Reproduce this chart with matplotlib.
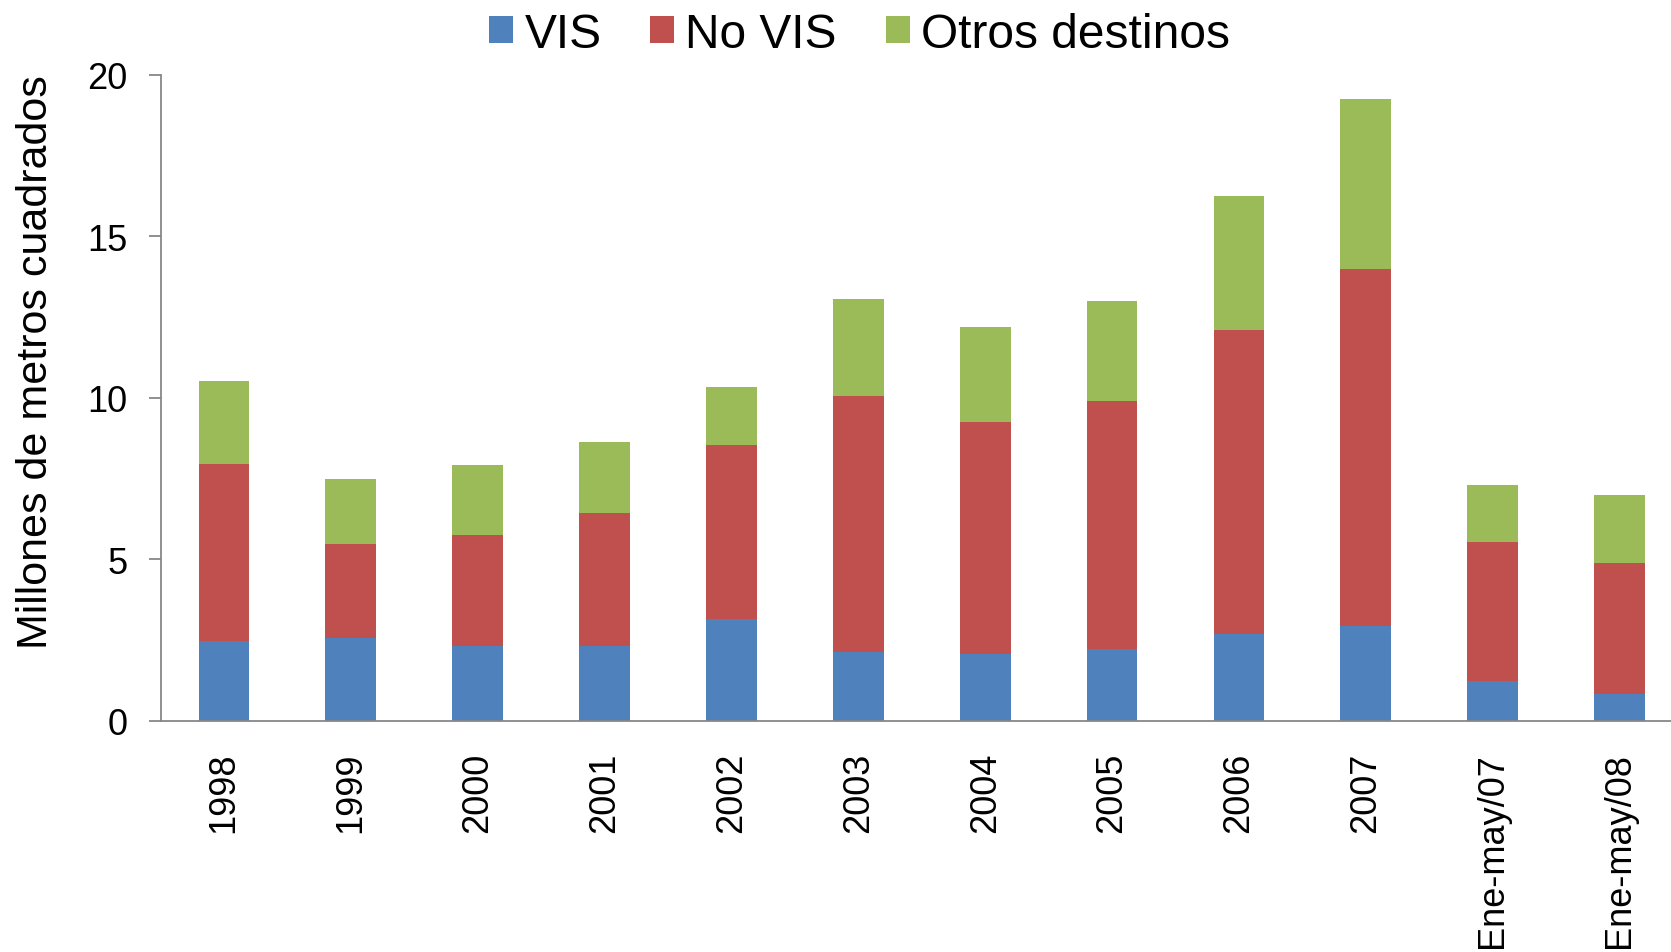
import matplotlib
matplotlib.use("Agg")
import matplotlib.pyplot as plt
import numpy as np

categories = ["1998", "1999", "2000", "2001", "2002", "2003", "2004", "2005",
              "2006", "2007", "Ene-may/07", "Ene-may/08"]
vis = [2.46, 2.54, 2.30, 2.30, 3.13, 2.11, 2.06, 2.22, 2.67, 2.94, 1.21, 0.81]
no_vis_top = [7.95, 5.48, 5.76, 6.43, 8.53, 10.06, 9.23, 9.91, 12.08, 13.97, 5.54, 4.89]
total = [10.50, 7.47, 7.90, 8.64, 10.32, 13.04, 12.20, 13.00, 16.23, 19.26, 7.28, 6.97]
no_vis = [t - v for t, v in zip(no_vis_top, vis)]
otros = [t - n for t, n in zip(total, no_vis_top)]

series_names = ["VIS", "No VIS", "Otros destinos"]
colors = ["#4F81BD", "#C0504D", "#9BBB59"]
yticks = [0, 5, 10, 15, 20]

plt.rcParams['font.family'] = ['Liberation Sans', 'DejaVu Sans']

W, H = 1671, 953
fig = plt.figure(figsize=(W / 100, H / 100), dpi=100)
x0, x1 = 160.5, 1683
ytop, ybot = 75.7, 721.5
ax = fig.add_axes([x0 / W, 1 - ybot / H, (x1 - x0) / W, (ybot - ytop) / H])

x = np.arange(len(categories))
bw = 0.40
ax.bar(x, vis, bw, color=colors[0], label=series_names[0], zorder=2)
ax.bar(x, no_vis, bw, bottom=vis, color=colors[1], label=series_names[1], zorder=2)
ax.bar(x, otros, bw, bottom=no_vis_top, color=colors[2], label=series_names[2], zorder=2)

ax.set_xlim(-0.5, len(categories) - 0.5)
ax.set_ylim(0, 20)
ax.set_yticks(yticks)
ax.set_yticklabels([str(v) for v in yticks])
ax.set_xticks(x)
ax.set_xticklabels(categories, rotation=90, va='top', ha='center')

for s in ["top", "right"]:
    ax.spines[s].set_visible(False)
for s in ["left", "bottom"]:
    ax.spines[s].set_color("#878787")
    ax.spines[s].set_linewidth(1.3)

ax.tick_params(axis='y', length=8.6, width=1.3, color="#878787", pad=15.0, labelsize=26)
ax.tick_params(axis='x', length=0, pad=22.5, labelsize=26)

fig.text(36 / W, 1 - 362 / H, "Millones de metros cuadrados", rotation=90,
         ha='center', va='center', fontsize=31)

leg = fig.legend(loc='center', bbox_to_anchor=(859.5 / W, 1 - 35 / H), ncol=3,
                 frameon=False, fontsize=34.5, handlelength=0.5, handleheight=0.5,
                 handletextpad=0.23, columnspacing=1.02, borderpad=0, borderaxespad=0)

fig.savefig("out.png", dpi=100)
